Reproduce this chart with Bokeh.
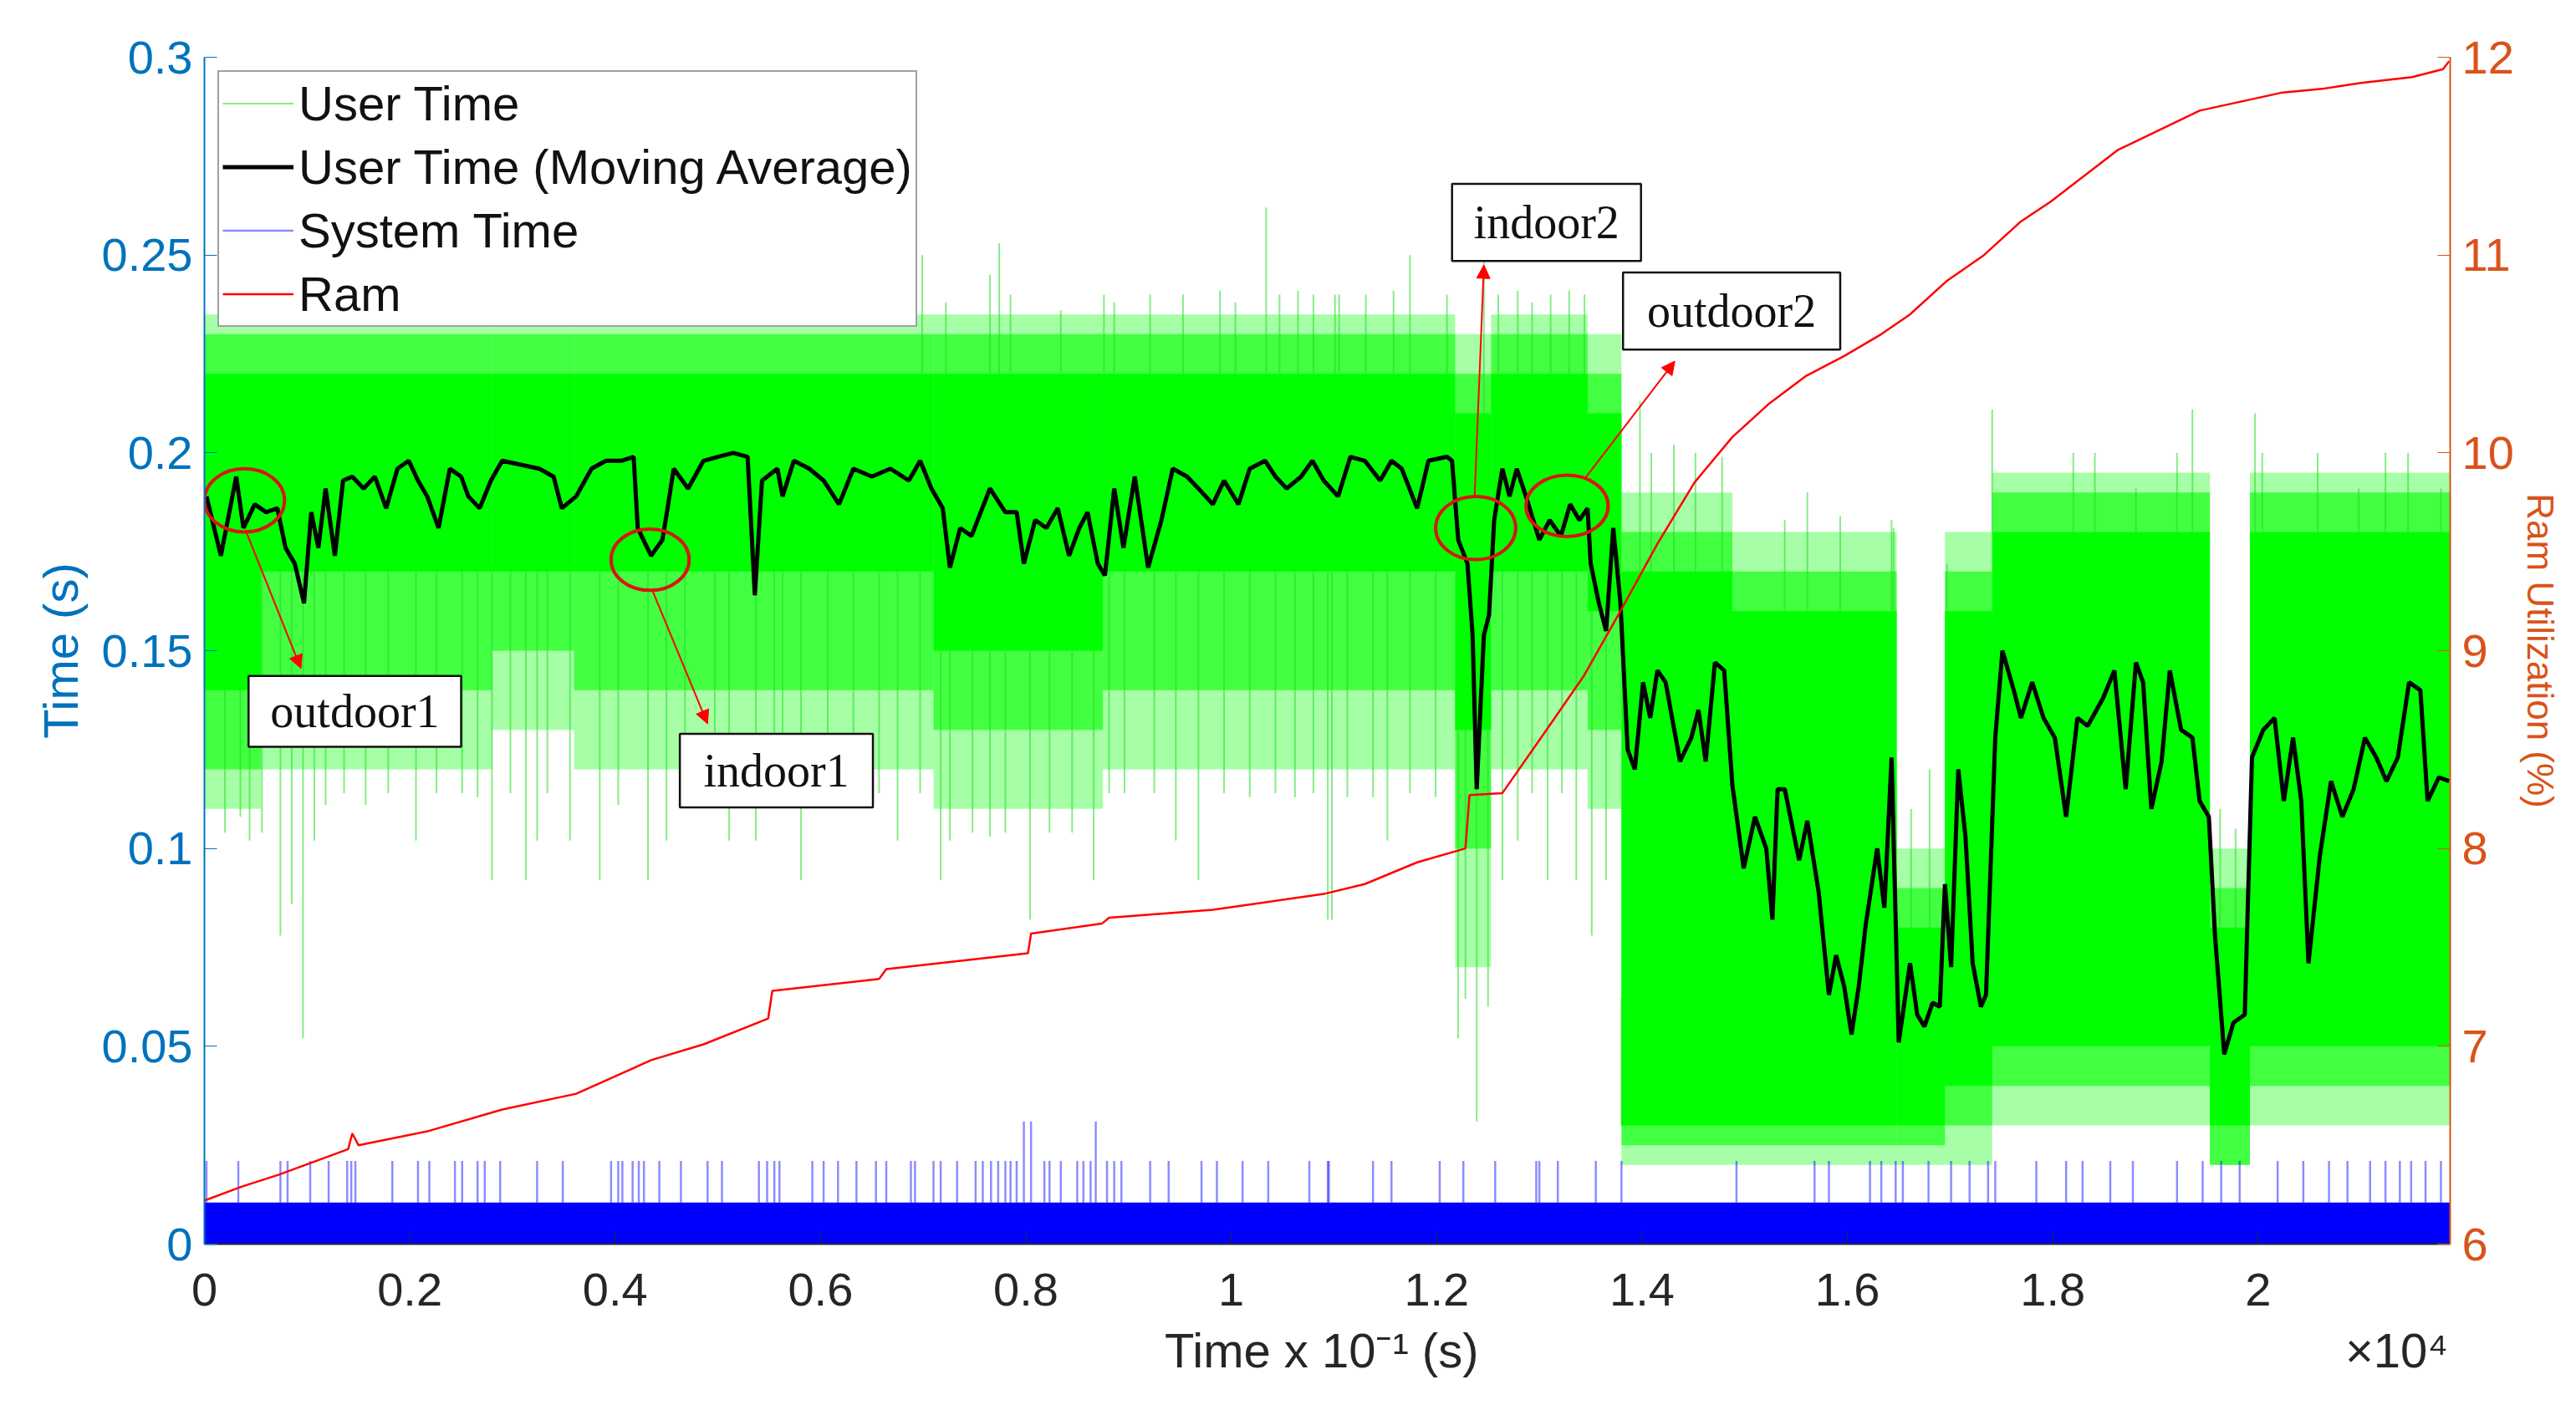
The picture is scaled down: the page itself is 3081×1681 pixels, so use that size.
import numpy as np
from bokeh.plotting import figure
from bokeh.models import Range1d, LinearAxis, FixedTicker, Legend, LegendItem, Arrow, NormalHead
from bokeh.core.properties import value
from bokeh.embed import file_html
from bokeh.resources import INLINE

# ---------------- data (x in units of 10^4) ----------------
x_ticks = [0, 0.2, 0.4, 0.6, 0.8, 1, 1.2, 1.4, 1.6, 1.8, 2]
x_tick_labels = ["0", "0.2", "0.4", "0.6", "0.8", "1", "1.2", "1.4", "1.6", "1.8", "2"]
y_ticks = [0, 0.05, 0.1, 0.15, 0.2, 0.25, 0.3]
y_tick_labels = ["0", "0.05", "0.1", "0.15", "0.2", "0.25", "0.3"]
ram_ticks = [6, 7, 8, 9, 10, 11, 12]
x_title = "Time x 10\u207b\u00b9 (s)"
x_multiplier = "\u00d710\u2074"

# User time envelope (bins)
g_edges = [0, 0.055, 0.28, 0.36, 0.71, 0.875, 1.218, 1.253, 1.347, 1.38, 1.488, 1.648, 1.695, 1.741, 1.953, 1.992, 2.19]
core_lo = [0.14, 0.17, 0.17, 0.17, 0.15, 0.17, 0.13, 0.17, 0.16, 0.03, 0.03, 0.03, 0.04, 0.05, 0.03, 0.05]
core_hi = [0.22, 0.22, 0.22, 0.22, 0.22, 0.22, 0.21, 0.22, 0.21, 0.17, 0.16, 0.08, 0.16, 0.18, 0.08, 0.18]
mid_lo = [0.12, 0.14, 0.15, 0.14, 0.13, 0.14, 0.10, 0.14, 0.13, 0.025, 0.025, 0.025, 0.03, 0.04, 0.02, 0.04]
mid_hi = [0.23, 0.23, 0.23, 0.23, 0.23, 0.23, 0.22, 0.23, 0.22, 0.18, 0.17, 0.09, 0.17, 0.19, 0.09, 0.19]
out_lo = [0.11, 0.12, 0.13, 0.12, 0.11, 0.12, 0.07, 0.12, 0.11, 0.02, 0.02, 0.02, 0.02, 0.03, 0.02, 0.03]
out_hi = [0.235, 0.235, 0.235, 0.235, 0.235, 0.235, 0.23, 0.235, 0.23, 0.19, 0.18, 0.10, 0.18, 0.195, 0.10, 0.195]

# User time spikes above the envelope
up_x = [0.699, 0.722, 0.765, 0.774, 0.785, 0.834, 0.876, 0.886, 0.921, 0.953, 0.989, 1.004, 1.034,
        1.047, 1.065, 1.080, 1.101, 1.105, 1.131, 1.158, 1.174, 1.210, 1.246, 1.260, 1.279, 1.293,
        1.311, 1.329, 1.344, 1.398, 1.409, 1.431, 1.452, 1.478, 1.539, 1.561, 1.593, 1.643, 1.645,
        1.662, 1.680, 1.697, 1.741, 1.820, 1.841, 1.881, 1.921, 1.936, 1.963, 1.978, 1.997, 2.004,
        2.058, 2.098, 2.124, 2.146, 2.178]
up_top = [0.250, 0.238, 0.245, 0.253, 0.240, 0.236, 0.240, 0.238, 0.240, 0.240, 0.241, 0.238, 0.262,
          0.240, 0.241, 0.240, 0.240, 0.240, 0.240, 0.241, 0.250, 0.240, 0.250, 0.240, 0.241, 0.238,
          0.240, 0.241, 0.240, 0.213, 0.200, 0.202, 0.200, 0.199, 0.183, 0.190, 0.184, 0.183, 0.181,
          0.110, 0.120, 0.172, 0.211, 0.200, 0.200, 0.191, 0.200, 0.211, 0.110, 0.105, 0.210, 0.200,
          0.200, 0.191, 0.200, 0.200, 0.191]

# User time spikes below the envelope
dn_x = [0.020, 0.035, 0.044, 0.056, 0.074, 0.085, 0.096, 0.107, 0.118, 0.136, 0.157, 0.179, 0.206,
        0.226, 0.251, 0.266, 0.280, 0.298, 0.313, 0.324, 0.334, 0.356, 0.385, 0.403, 0.432, 0.450,
        0.468, 0.497, 0.511, 0.537, 0.555, 0.563, 0.581, 0.607, 0.632, 0.657, 0.675, 0.697, 0.717,
        0.726, 0.748, 0.765, 0.780, 0.804, 0.823, 0.845, 0.866, 0.881, 0.896, 0.925, 0.946, 0.968,
        0.993, 1.018, 1.043, 1.062, 1.080, 1.094, 1.098, 1.113, 1.138, 1.152, 1.174, 1.199, 1.221,
        1.228, 1.239, 1.250, 1.264, 1.279, 1.293, 1.308, 1.322, 1.336, 1.351, 1.365, 1.380]
dn_bot = [0.104, 0.108, 0.102, 0.104, 0.078, 0.086, 0.052, 0.102, 0.111, 0.114, 0.111, 0.114, 0.102,
          0.114, 0.114, 0.113, 0.092, 0.114, 0.092, 0.102, 0.114, 0.102, 0.092, 0.111, 0.092, 0.102,
          0.114, 0.114, 0.102, 0.102, 0.114, 0.113, 0.092, 0.114, 0.113, 0.114, 0.102, 0.114, 0.092,
          0.102, 0.104, 0.103, 0.104, 0.082, 0.104, 0.104, 0.092, 0.114, 0.114, 0.114, 0.102, 0.092,
          0.114, 0.113, 0.114, 0.113, 0.114, 0.082, 0.082, 0.113, 0.113, 0.102, 0.114, 0.113, 0.052,
          0.062, 0.031, 0.060, 0.092, 0.102, 0.114, 0.092, 0.114, 0.092, 0.078, 0.092, 0.062]

# User time moving average
ma_x = [0.002, 0.016, 0.031, 0.038, 0.049, 0.060, 0.071, 0.079, 0.088, 0.097, 0.104, 0.111, 0.118,
        0.127, 0.135, 0.144, 0.155, 0.166, 0.177, 0.188, 0.199, 0.208, 0.217, 0.228, 0.239, 0.250,
        0.257, 0.268, 0.279, 0.290, 0.308, 0.326, 0.340, 0.348, 0.362, 0.377, 0.391, 0.406, 0.418,
        0.422, 0.435, 0.446, 0.451, 0.457, 0.471, 0.486, 0.500, 0.515, 0.529, 0.536, 0.543, 0.558,
        0.563, 0.574, 0.589, 0.603, 0.618, 0.632, 0.650, 0.668, 0.686, 0.697, 0.708, 0.719, 0.726,
        0.736, 0.747, 0.765, 0.780, 0.791, 0.798, 0.809, 0.820, 0.831, 0.842, 0.852, 0.860, 0.870,
        0.877, 0.886, 0.895, 0.906, 0.919, 0.932, 0.943, 0.957, 0.968, 0.982, 0.993, 1.007, 1.018,
        1.033, 1.043, 1.054, 1.068, 1.079, 1.090, 1.104, 1.116, 1.130, 1.145, 1.156, 1.166, 1.181,
        1.192, 1.210, 1.215, 1.221, 1.230, 1.235, 1.239, 1.246, 1.251, 1.256, 1.264, 1.271, 1.278,
        1.287, 1.300, 1.310, 1.321, 1.330, 1.339, 1.347, 1.350, 1.358, 1.365, 1.372, 1.379, 1.386,
        1.393, 1.401, 1.408, 1.415, 1.423, 1.430, 1.437, 1.448, 1.455, 1.462, 1.471, 1.480, 1.488,
        1.499, 1.510, 1.521, 1.527, 1.532, 1.539, 1.553, 1.561, 1.572, 1.582, 1.589, 1.597, 1.604,
        1.611, 1.618, 1.629, 1.636, 1.643, 1.650, 1.661, 1.668, 1.675, 1.683, 1.690, 1.695, 1.701,
        1.708, 1.715, 1.722, 1.730, 1.735, 1.744, 1.751, 1.762, 1.769, 1.780, 1.791, 1.802, 1.813,
        1.824, 1.834, 1.849, 1.860, 1.871, 1.881, 1.888, 1.896, 1.906, 1.914, 1.925, 1.936, 1.943,
        1.952, 1.958, 1.967, 1.976, 1.987, 1.994, 2.005, 2.016, 2.025, 2.034, 2.042, 2.049, 2.060,
        2.071, 2.082, 2.093, 2.104, 2.115, 2.125, 2.136, 2.147, 2.158, 2.165, 2.176, 2.186]
ma_y = [0.189, 0.174, 0.194, 0.181, 0.187, 0.185, 0.186, 0.176, 0.172, 0.162, 0.185, 0.176, 0.191,
        0.174, 0.193, 0.194, 0.191, 0.194, 0.186, 0.196, 0.198, 0.193, 0.189, 0.181, 0.196, 0.194,
        0.189, 0.186, 0.193, 0.198, 0.197, 0.196, 0.194, 0.186, 0.189, 0.196, 0.198, 0.198, 0.199,
        0.181, 0.174, 0.178, 0.186, 0.196, 0.191, 0.198, 0.199, 0.200, 0.199, 0.164, 0.193, 0.196,
        0.189, 0.198, 0.196, 0.193, 0.187, 0.196, 0.194, 0.196, 0.193, 0.198, 0.191, 0.186, 0.171,
        0.181, 0.179, 0.191, 0.185, 0.185, 0.172, 0.183, 0.181, 0.186, 0.174, 0.181, 0.185, 0.172,
        0.169, 0.191, 0.176, 0.194, 0.171, 0.183, 0.196, 0.194, 0.191, 0.187, 0.193, 0.187, 0.196,
        0.198, 0.194, 0.191, 0.194, 0.198, 0.193, 0.189, 0.199, 0.198, 0.193, 0.198, 0.196, 0.186,
        0.198, 0.199, 0.198, 0.178, 0.172, 0.154, 0.115, 0.154, 0.159, 0.183, 0.196, 0.189, 0.196,
        0.189, 0.178, 0.183, 0.179, 0.187, 0.183, 0.186, 0.172, 0.162, 0.155, 0.181, 0.162, 0.125,
        0.120, 0.142, 0.133, 0.145, 0.142, 0.132, 0.122, 0.128, 0.135, 0.122, 0.147, 0.145, 0.116,
        0.095, 0.108, 0.100, 0.082, 0.115, 0.115, 0.097, 0.107, 0.089, 0.063, 0.073, 0.065, 0.053,
        0.065, 0.081, 0.100, 0.085, 0.123, 0.051, 0.071, 0.058, 0.055, 0.061, 0.060, 0.091, 0.070,
        0.120, 0.103, 0.071, 0.060, 0.063, 0.128, 0.150, 0.140, 0.133, 0.142, 0.133, 0.128, 0.108,
        0.133, 0.131, 0.138, 0.145, 0.115, 0.147, 0.142, 0.110, 0.122, 0.145, 0.130, 0.128, 0.112,
        0.108, 0.078, 0.048, 0.056, 0.058, 0.123, 0.130, 0.133, 0.112, 0.128, 0.112, 0.071, 0.098,
        0.117, 0.108, 0.115, 0.128, 0.123, 0.117, 0.123, 0.142, 0.140, 0.112, 0.118, 0.117]

# System time
sys_band_top = 0.0105
sys_x = [0.002, 0.033, 0.074, 0.081, 0.103, 0.121, 0.139, 0.143, 0.147, 0.183, 0.208, 0.219, 0.244,
         0.251, 0.266, 0.273, 0.288, 0.324, 0.349, 0.396, 0.403, 0.407, 0.417, 0.423, 0.428, 0.443,
         0.464, 0.490, 0.504, 0.540, 0.548, 0.555, 0.560, 0.592, 0.603, 0.617, 0.635, 0.654, 0.664,
         0.688, 0.692, 0.710, 0.717, 0.733, 0.751, 0.758, 0.766, 0.773, 0.780, 0.785, 0.791, 0.798,
         0.805, 0.818, 0.823, 0.834, 0.850, 0.856, 0.863, 0.868, 0.879, 0.886, 0.893, 0.921, 0.939,
         0.971, 0.986, 1.011, 1.036, 1.076, 1.094, 1.095, 1.138, 1.156, 1.203, 1.226, 1.257, 1.297,
         1.300, 1.318, 1.355, 1.380, 1.492, 1.568, 1.582, 1.622, 1.633, 1.647, 1.654, 1.679, 1.701,
         1.719, 1.737, 1.744, 1.784, 1.813, 1.829, 1.856, 1.878, 1.921, 1.946, 1.964, 1.982, 2.019,
         2.044, 2.069, 2.087, 2.109, 2.124, 2.138, 2.149, 2.163, 2.178]
sys_top = [0.021] * 51 + [0.031, 0.031] + [0.021] * 6 + [0.031] + [0.021] * 57

# RAM utilisation (%)
ram_x = [0, 0.036, 0.072, 0.140, 0.144, 0.150, 0.217, 0.290, 0.362, 0.435, 0.486, 0.549, 0.553, 0.657,
         0.664, 0.802, 0.805, 0.874, 0.881, 0.982, 1.090, 1.130, 1.181, 1.228, 1.232, 1.264, 1.307,
         1.343, 1.379, 1.415, 1.451, 1.488, 1.524, 1.560, 1.597, 1.633, 1.661, 1.697, 1.733, 1.769,
         1.798, 1.863, 1.943, 2.022, 2.062, 2.100, 2.150, 2.180, 2.186]
ram_y = [6.22, 6.29, 6.35, 6.48, 6.56, 6.50, 6.57, 6.68, 6.76, 6.93, 7.01, 7.14, 7.28, 7.34,
         7.39, 7.47, 7.57, 7.62, 7.65, 7.69, 7.77, 7.82, 7.93, 8.00, 8.27, 8.28, 8.60,
         8.87, 9.20, 9.54, 9.85, 10.08, 10.25, 10.39, 10.49, 10.60, 10.70, 10.87, 11.00, 11.17,
         11.27, 11.53, 11.73, 11.82, 11.84, 11.87, 11.90, 11.94, 11.98]

# Annotations
annot_labels = ["outdoor1", "indoor1", "indoor2", "outdoor2"]
ell_x = [0.039, 0.434, 1.238, 1.327]
ell_y = [0.188, 0.173, 0.181, 0.1866]
ell_w = [0.078, 0.076, 0.078, 0.080]
ell_h = [0.016, 0.0155, 0.016, 0.0155]
arr_x0 = [0.040, 0.436, 1.237, 1.344]
arr_y0 = [0.1805, 0.1654, 0.189, 0.1934]
arr_x1 = [0.094, 0.490, 1.246, 1.432]
arr_y1 = [0.1455, 0.1315, 0.2475, 0.2232]
box_l = [0.043, 0.463, 1.215, 1.3815]
box_r = [0.250, 0.651, 1.399, 1.593]
box_b = [0.1257, 0.1104, 0.2485, 0.2261]
box_t = [0.1436, 0.1290, 0.2680, 0.2456]

# ---------------- figure ----------------
BLUE_AX = "#0072BD"
ORANGE_AX = "#D95319"
X_END = 2.187
FONT = "Liberation Sans"

p = figure(width=3065, height=1665, output_backend="svg", toolbar_location=None,
           x_range=Range1d(0, X_END), y_range=Range1d(0, 0.3),
           min_border_left=244, min_border_top=68, min_border_bottom=177, min_border_right=30)
p.extra_y_ranges = {"ram": Range1d(6, 12)}
p.grid.visible = False
p.outline_line_color = None
p.background_fill_color = "white"

# user time envelope
xl = g_edges[:-1]
xr = g_edges[1:]
p.quad(left=xl, right=xr, bottom=out_lo, top=out_hi, fill_color="#00FF00", fill_alpha=0.35, line_color=None)
p.quad(left=xl, right=xr, bottom=mid_lo, top=mid_hi, fill_color="#00FF00", fill_alpha=0.6, line_color=None)
p.quad(left=xl, right=xr, bottom=core_lo, top=core_hi, fill_color="#00FF00", fill_alpha=1.0, line_color=None)

edges = np.array(g_edges)
def bin_of(xs):
    return np.clip(np.searchsorted(edges, np.array(xs), side="right") - 1, 0, len(core_lo) - 1)

up_base = np.array(core_hi)[bin_of(up_x)]
dn_base = np.array(core_lo)[bin_of(dn_x)]
g_up = p.segment(x0=up_x, y0=up_base, x1=up_x, y1=up_top, line_color="#22DD22", line_alpha=0.55, line_width=2)
p.segment(x0=dn_x, y0=dn_base, x1=dn_x, y1=dn_bot, line_color="#22DD22", line_alpha=0.55, line_width=2)

# system time
p.quad(left=[0], right=[X_END], bottom=[0], top=[sys_band_top], fill_color="#0000FF", line_color=None)
s_spk = p.segment(x0=sys_x, y0=[sys_band_top] * len(sys_x), x1=sys_x, y1=sys_top,
                  line_color="#0000FF", line_alpha=0.45, line_width=2.5)

# moving average
ma = p.line(ma_x, ma_y, line_color="black", line_width=5)

# ram
ram = p.line(ram_x, ram_y, line_color="#FF0000", line_width=2.5, y_range_name="ram")

# annotations
p.ellipse(x=ell_x, y=ell_y, width=ell_w, height=ell_h, fill_color=None, line_color="#D8160E", line_width=4)
for i in range(len(arr_x0)):
    p.add_layout(Arrow(end=NormalHead(size=16, fill_color="#FF0000", line_color="#FF0000"),
                       x_start=arr_x0[i], y_start=arr_y0[i], x_end=arr_x1[i], y_end=arr_y1[i],
                       line_color="#FF0000", line_width=2))
p.quad(left=box_l, right=box_r, bottom=box_b, top=box_t, fill_color="white", line_color="#111111", line_width=2.5)
p.text(x=[(a + b) / 2 for a, b in zip(box_l, box_r)], y=[(a + b) / 2 for a, b in zip(box_b, box_t)],
       text=annot_labels, text_font=value("Liberation Serif"), text_font_size="56px",
       text_align="center", text_baseline="middle", text_color="#111111")

# bottom axis (ticks)
xa = p.xaxis[0]
xa.ticker = FixedTicker(ticks=x_ticks)
xa.major_label_overrides = dict(zip(x_ticks, x_tick_labels))
xa.axis_line_color = "#262626"
xa.axis_line_width = 2
xa.major_tick_line_color = "#262626"
xa.major_tick_in = 15
xa.major_tick_out = 0
xa.minor_tick_line_color = None
xa.major_label_text_font = FONT
xa.major_label_text_font_size = "56px"
xa.major_label_text_color = "#262626"
xa.major_label_standoff = 35

# second bottom axis carrying the axis title and the x10^4 multiplier
title_pos = [1.088, 2.135]
xb = LinearAxis(ticker=FixedTicker(ticks=title_pos),
                major_label_overrides={title_pos[0]: x_title, title_pos[1]: x_multiplier})
xb.axis_line_color = None
xb.major_tick_line_color = None
xb.minor_tick_line_color = None
xb.major_label_text_font = FONT
xb.major_label_text_font_size = "58px"
xb.major_label_text_color = "#262626"
xb.major_label_standoff = 12
p.add_layout(xb, "below")

ya = p.yaxis[0]
ya.ticker = FixedTicker(ticks=y_ticks)
ya.major_label_overrides = dict(zip(y_ticks, y_tick_labels))
ya.axis_label = "Time (s)"
ya.axis_line_color = BLUE_AX
ya.axis_line_width = 2
ya.major_tick_line_color = BLUE_AX
ya.major_tick_in = 15
ya.major_tick_out = 0
ya.minor_tick_line_color = None
ya.major_label_text_font = FONT
ya.major_label_text_font_size = "56px"
ya.major_label_text_color = BLUE_AX
ya.major_label_standoff = 14
ya.axis_label_text_font = FONT
ya.axis_label_text_font_size = "58px"
ya.axis_label_text_font_style = "normal"
ya.axis_label_text_color = BLUE_AX
ya.axis_label_standoff = 14

ra = LinearAxis(y_range_name="ram", ticker=FixedTicker(ticks=ram_ticks), axis_label="Ram Utilization (%)")
ra.axis_line_color = ORANGE_AX
ra.axis_line_width = 2
ra.major_tick_line_color = ORANGE_AX
ra.major_tick_in = 15
ra.major_tick_out = 0
ra.minor_tick_line_color = None
ra.major_label_text_font = FONT
ra.major_label_text_font_size = "56px"
ra.major_label_text_color = ORANGE_AX
ra.major_label_standoff = 14
ra.axis_label_text_font = FONT
ra.axis_label_text_font_size = "44px"
ra.axis_label_text_font_style = "normal"
ra.axis_label_text_color = ORANGE_AX
ra.axis_label_standoff = 4
p.add_layout(ra, "right")

legend = Legend(items=[LegendItem(label="User Time", renderers=[g_up]),
                       LegendItem(label="User Time (Moving Average)", renderers=[ma]),
                       LegendItem(label="System Time", renderers=[s_spk]),
                       LegendItem(label="Ram", renderers=[ram])],
                location="top_left")
legend.margin = 16
legend.padding = 4
legend.spacing = 9
legend.glyph_width = 85
legend.glyph_height = 67
legend.label_height = 67
legend.label_standoff = 6
legend.label_text_font = FONT
legend.label_text_font_size = "58px"
legend.label_text_color = "#111111"
legend.border_line_color = "#444444"
legend.border_line_width = 2
legend.background_fill_alpha = 1.0
p.add_layout(legend)

open("out.html", "w").write(file_html(p, INLINE))
